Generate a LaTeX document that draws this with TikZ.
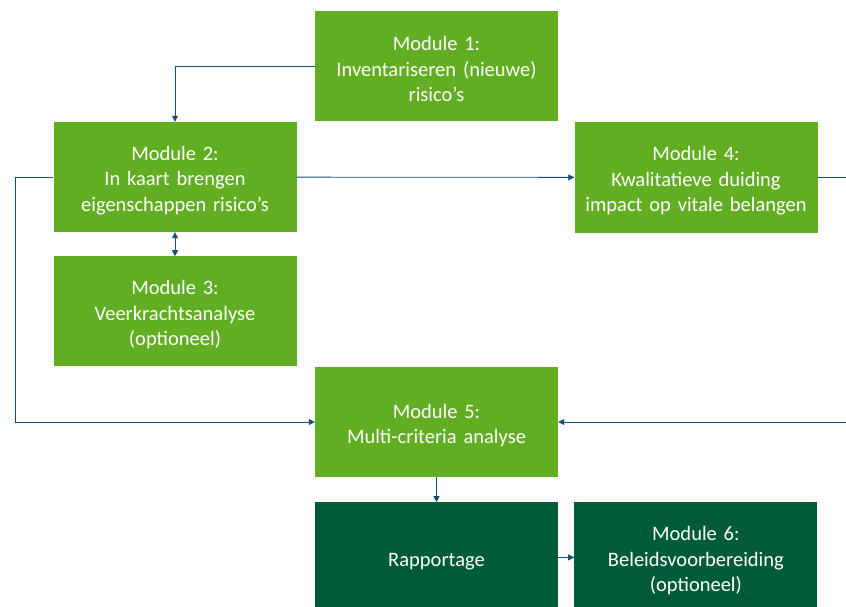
\documentclass[tikz,border=0pt]{standalone}
\usepackage{fontspec}
\setmainfont{Carlito}
\usetikzlibrary{arrows.meta, positioning}
\definecolor{modgreen}{RGB}{98,174,35}
\definecolor{darkgreen}{RGB}{0,92,56}
\definecolor{linkblue}{RGB}{24,80,116}
\tikzstyle{line} = [draw, -{Triangle[length=6pt,width=6pt]}, line width=0.8pt, color=linkblue]
\tikzstyle{module} = [rectangle, fill=modgreen, text=white, inner sep=0pt,
  minimum width=243pt, minimum height=110pt, text width=240pt, align=center,
  font=\fontsize{20.5}{25.5}\selectfont, execute at begin node=\rule{0pt}{21pt}]
\tikzstyle{report} = [module, fill=darkgreen]

\begin{document}
\begin{tikzpicture}[x=1pt, y=-1pt]
    \useasboundingbox (0,0) rectangle (846,607);
    \clip (0,0) rectangle (846,607);

    \node [module] (mod1) at (436.5,66) {Module 1:\\Inventariseren (nieuwe)\\risico’s};
    \node [module] (mod2) at (175,177) {Module 2:\\In kaart brengen\\eigenschappen risico’s};
    \node [module, below=24pt of mod2] (mod3) {Module 3:\\Veerkrachtsanalyse\\(optioneel)};
    \node [module] (mod4) at (696,177.5) {Module 4:\\Kwalitatieve duiding\\impact op vitale belangen};
    \node [module] (mod5) at (436.5,422) {Module 5:\\Multi-criteria analyse};

    \node [report, below=25pt of mod5] (rapport) {Rapportage};
    \node [report, right=16pt of rapport] (mod6) {Module 6:\\Beleidsvoorbereiding\\(optioneel)};

    \coordinate (leftBend) at (15,177);
    \coordinate (rightBend) at (860,177.5);

    \path [line] (mod1.west) -| (mod2.north);
    \path [line, {Triangle[length=6pt,width=6pt]}-{Triangle[length=6pt,width=6pt]}] (mod2) -- (mod3);
    \path [line] (mod2) -- (mod4);
    \path [line] (mod2.west) -- (leftBend) |- (mod5.west);
    \path [line] (mod4.east) -- (rightBend) |- (mod5.east);
    \path [line] (mod5) -- (rapport);
    \path [line] (rapport) -- (mod6);
\end{tikzpicture}
\end{document}
